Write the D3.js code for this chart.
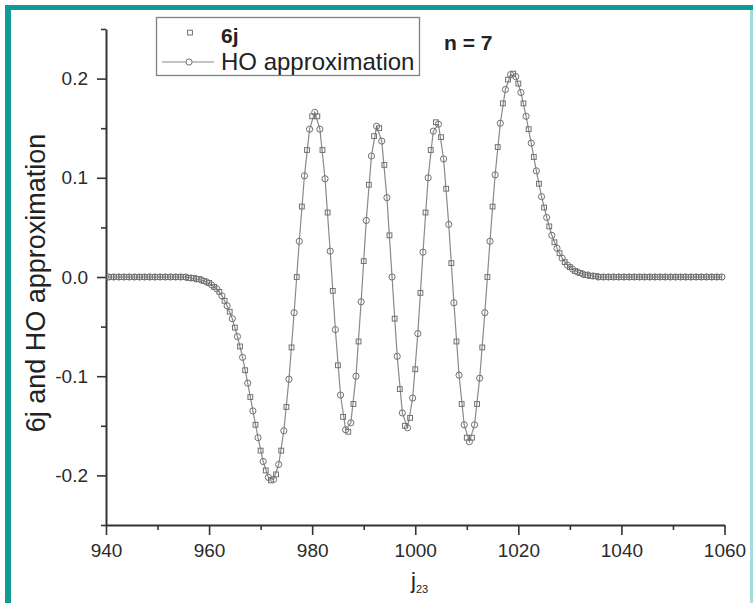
<!DOCTYPE html>
<html>
<head>
<meta charset="utf-8">
<script src="https://cdn.jsdelivr.net/npm/d3@7"></script>
<style>
  body { margin: 0; background: #fff; }
  svg { display: block; font-family: "Liberation Sans", Arial, sans-serif; }
</style>
</head>
<body>
<div id="chart"></div>
<script>
// 6j points at integer j23 = 941 ... 1059
var sixjStart = 941;
var sixjValues = [
  0, 0, 0, 0, 0, 0, 0, 0, 0, 0, 0, 0, 0, 0, 0,
  -0.001, -0.001, -0.002, -0.004, -0.006, -0.010, -0.015, -0.024, -0.035, -0.051,
  -0.070, -0.094, -0.121, -0.149, -0.175, -0.195, -0.205, -0.199, -0.175, -0.131,
  -0.071, 0.000, 0.071, 0.128, 0.162, 0.162, 0.128, 0.065, -0.014, -0.089,
  -0.141, -0.156, -0.128, -0.065, 0.016, 0.093, 0.142, 0.150, 0.113, 0.042,
  -0.042, -0.113, -0.150, -0.142, -0.093, -0.016, 0.065, 0.128, 0.156, 0.141,
  0.089, 0.014, -0.065, -0.128, -0.162, -0.162, -0.128, -0.071, 0.000, 0.071,
  0.131, 0.175, 0.199, 0.205, 0.195, 0.175, 0.149, 0.121, 0.094, 0.070,
  0.051, 0.035, 0.024, 0.015, 0.010, 0.006, 0.004, 0.002, 0.001, 0.001,
  0, 0, 0, 0, 0, 0, 0, 0, 0, 0, 0, 0, 0, 0, 0, 0, 0, 0, 0, 0, 0, 0, 0, 0
];

// HO approximation at half-integer j23 = 940.5 ... 1059.5
var hoStart = 940.5;
var hoValues = [
  0, 0, 0, 0, 0, 0, 0, 0, 0, 0, 0, 0, 0, 0, 0, 0,
  -0.001, -0.002, -0.003, -0.005, -0.008, -0.012, -0.019, -0.029, -0.042, -0.060,
  -0.081, -0.107, -0.135, -0.162, -0.186, -0.202, -0.204, -0.189, -0.155, -0.103,
  -0.036, 0.036, 0.102, 0.149, 0.166, 0.149, 0.099, 0.026, -0.053, -0.119,
  -0.154, -0.147, -0.100, -0.025, 0.057, 0.122, 0.152, 0.137, 0.080, 0.000,
  -0.080, -0.137, -0.152, -0.122, -0.057, 0.025, 0.100, 0.147, 0.154, 0.119,
  0.053, -0.026, -0.099, -0.149, -0.166, -0.149, -0.102, -0.036, 0.036, 0.103,
  0.155, 0.189, 0.204, 0.202, 0.186, 0.162, 0.135, 0.107, 0.081, 0.060,
  0.042, 0.029, 0.019, 0.012, 0.008, 0.005, 0.003, 0.002, 0.001,
  0, 0, 0, 0, 0, 0, 0, 0, 0, 0, 0, 0, 0, 0, 0, 0, 0, 0, 0, 0, 0, 0, 0, 0, 0
];

var xTicks = [940, 960, 980, 1000, 1020, 1040, 1060];
var xMinorTicks = [950, 970, 990, 1010, 1030, 1050];
var yTicks = [-0.2, -0.1, 0.0, 0.1, 0.2];
var yMinorTicks = [-0.25, -0.15, -0.05, 0.05, 0.15, 0.25];
var legendNames = ["6j", "HO approximation"];

var sixj = sixjValues.map(function(v, i) { return { j: sixjStart + i, v: v }; });
var ho = hoValues.map(function(v, i) { return { j: hoStart + i, v: v }; });

var svg = d3.select("#chart").append("svg")
    .attr("width", 753)
    .attr("height", 603);

// teal frame
svg.append("rect").attr("x", 5).attr("y", 5).attr("width", 748).attr("height", 5).attr("fill", "#0f9c96");
svg.append("rect").attr("x", 5).attr("y", 5).attr("width", 6).attr("height", 598).attr("fill", "#0f9c96");
svg.append("rect").attr("x", 750).attr("y", 10).attr("width", 3).attr("height", 593).attr("fill", "#a6dcd9");

var x = d3.scaleLinear().domain([940, 1060]).range([106, 724.5]);
var y = d3.scaleLinear().domain([-0.25, 0.25]).range([525, 29]);

var axisColor = "#333";

svg.append("g").attr("transform", "translate(0,525)")
    .call(d3.axisBottom(x).tickValues(xTicks).tickSize(10).tickPadding(9)
        .tickSizeOuter(0).tickFormat(d3.format("d")));
svg.append("g").attr("transform", "translate(0,525)")
    .call(d3.axisBottom(x).tickValues(xMinorTicks).tickSize(5).tickSizeOuter(0).tickFormat(""))
    .select(".domain").remove();

svg.append("g").attr("transform", "translate(106,0)")
    .call(d3.axisLeft(y).tickValues(yTicks).tickSize(9).tickPadding(9)
        .tickSizeOuter(0).tickFormat(function(d) { return d.toFixed(1); }));
svg.append("g").attr("transform", "translate(106,0)")
    .call(d3.axisLeft(y).tickValues(yMinorTicks).tickSize(5).tickSizeOuter(0).tickFormat(""))
    .select(".domain").remove();

svg.selectAll(".domain").attr("stroke", axisColor).attr("stroke-width", 2);
svg.selectAll(".tick line").attr("stroke", axisColor).attr("stroke-width", 1.6);
svg.selectAll(".tick text")
    .style("font-size", "19px")
    .style("font-family", "'Liberation Sans', Arial, sans-serif")
    .attr("fill", "#2a2a2a");

// HO approximation line with circles
var line = d3.line()
    .x(function(d) { return x(d.j); })
    .y(function(d) { return y(d.v); });

svg.append("path")
    .datum(ho)
    .attr("fill", "none")
    .attr("stroke", "#8a8a8a")
    .attr("stroke-width", 1.2)
    .attr("d", line);

svg.append("g").selectAll("circle")
    .data(ho)
    .enter().append("circle")
    .attr("cx", function(d) { return x(d.j); })
    .attr("cy", function(d) { return y(d.v); })
    .attr("r", 3.1)
    .attr("fill", "none")
    .attr("stroke", "#707070")
    .attr("stroke-width", 1);

// 6j squares
svg.append("g").selectAll("rect")
    .data(sixj)
    .enter().append("rect")
    .attr("x", function(d) { return x(d.j) - 2.4; })
    .attr("y", function(d) { return y(d.v) - 2.4; })
    .attr("width", 4.8)
    .attr("height", 4.8)
    .attr("fill", "none")
    .attr("stroke", "#707070")
    .attr("stroke-width", 1);

// legend
var lg = svg.append("g");
lg.append("rect")
    .attr("x", 156.5).attr("y", 17.5).attr("width", 263).attr("height", 58)
    .attr("fill", "#fff").attr("stroke", "#808080").attr("stroke-width", 1.3);
lg.append("rect")
    .attr("x", 187.6).attr("y", 30.2).attr("width", 4.8).attr("height", 4.8)
    .attr("fill", "none").attr("stroke", "#707070");
lg.append("line")
    .attr("x1", 162).attr("x2", 214).attr("y1", 62).attr("y2", 62)
    .attr("stroke", "#8a8a8a").attr("stroke-width", 1.2);
lg.append("circle")
    .attr("cx", 189).attr("cy", 62).attr("r", 3.1)
    .attr("fill", "#fff").attr("stroke", "#707070");
lg.append("text")
    .attr("x", 221).attr("y", 43)
    .style("font-size", "21px").style("font-weight", "bold")
    .attr("fill", "#222")
    .text(legendNames[0]);
lg.append("text")
    .attr("x", 221).attr("y", 69.5)
    .style("font-size", "24px")
    .attr("fill", "#222")
    .text(legendNames[1]);

svg.append("text")
    .attr("x", 444).attr("y", 50)
    .style("font-size", "21px").style("font-weight", "bold")
    .attr("fill", "#222")
    .text("n = 7");

// axis titles
svg.append("text")
    .attr("transform", "translate(45,283) rotate(-90)")
    .attr("text-anchor", "middle")
    .style("font-size", "27px")
    .attr("fill", "#222")
    .text("6j and HO approximation");

var xt = svg.append("text")
    .attr("x", 411).attr("y", 588)
    .style("font-size", "22px")
    .attr("fill", "#222");
xt.append("tspan").text("j");
xt.append("tspan").attr("dy", 5).style("font-size", "11px").text("23");
</script>
</body>
</html>
